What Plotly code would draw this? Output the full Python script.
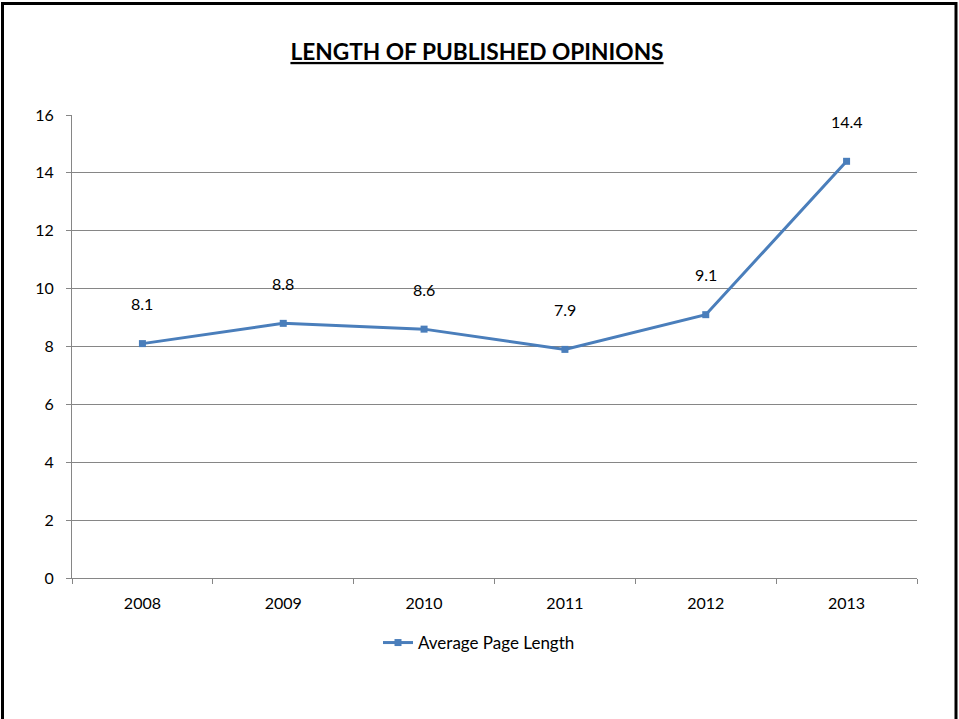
import plotly.graph_objects as go

years = ["2008", "2009", "2010", "2011", "2012", "2013"]
avg_pages = [8.1, 8.8, 8.6, 7.9, 9.1, 14.4]
y_ticks = [0, 2, 4, 6, 8, 10, 12, 14, 16]

FONT = "Lato, Calibri, Open Sans, sans-serif"
BLUE = "#4A7EBB"
GRID = "#868686"

W, H = 959, 719
L, R, T, B = 72, 42, 115, 141
pw, ph = W - L - R, H - T - B


def px(xp):
    return (xp - L) / pw


def py(yp):
    return (H - B - yp) / ph


fig = go.Figure()
fig.add_trace(go.Scatter(
    x=years, y=avg_pages, mode="lines+markers", name="Average Page Length",
    line=dict(color=BLUE, width=3),
    marker=dict(symbol="square", size=7, color=BLUE),
))

# value labels above each point (category axis positions are indices)
for i, v in enumerate(avg_pages):
    fig.add_annotation(x=i, y=v, xref="x", yref="y", text=f"{v:g}",
                       showarrow=False, yshift=40, yanchor="middle",
                       font=dict(family=FONT, size=16, color="#000000"))

# outer frame
fig.add_shape(type="rect", xref="paper", yref="paper",
              x0=px(2.5), x1=px(956), y0=py(780), y1=py(3.5),
              line=dict(color="#000000", width=3))

fig.update_layout(
    width=W, height=H, autosize=False,
    margin=dict(l=L, r=R, t=T, b=B, autoexpand=False),
    paper_bgcolor="white", plot_bgcolor="white",
    font=dict(family=FONT, size=16, color="#000000"),
    title=dict(text="<b><u>LENGTH OF PUBLISHED OPINIONS</u></b>",
               xref="container", x=477 / W, xanchor="center",
               yref="container", y=1 - 52 / H, yanchor="middle",
               font=dict(family=FONT, size=22.7, color="#000000")),
    showlegend=True,
    legend=dict(orientation="h", x=px(479), xanchor="center",
                y=py(643), yanchor="middle",
                font=dict(family=FONT, size=17)),
    xaxis=dict(type="category", range=[-0.5, 5.5], showgrid=False,
               showline=True, linecolor=GRID, linewidth=1,
               ticks="outside", tickson="boundaries", ticklen=5,
               tickcolor=GRID, automargin=False, ticklabelstandoff=11,
               tickfont=dict(family=FONT, size=16)),
    yaxis=dict(range=[0, 16], tickvals=y_ticks, showgrid=True,
               gridcolor=GRID, gridwidth=1, zeroline=False,
               showline=True, linecolor=GRID, linewidth=1,
               ticks="outside", ticklen=5, tickcolor=GRID,
               automargin=False, ticklabelstandoff=9,
               tickfont=dict(family=FONT, size=16)),
)

fig.write_html("out.html")
